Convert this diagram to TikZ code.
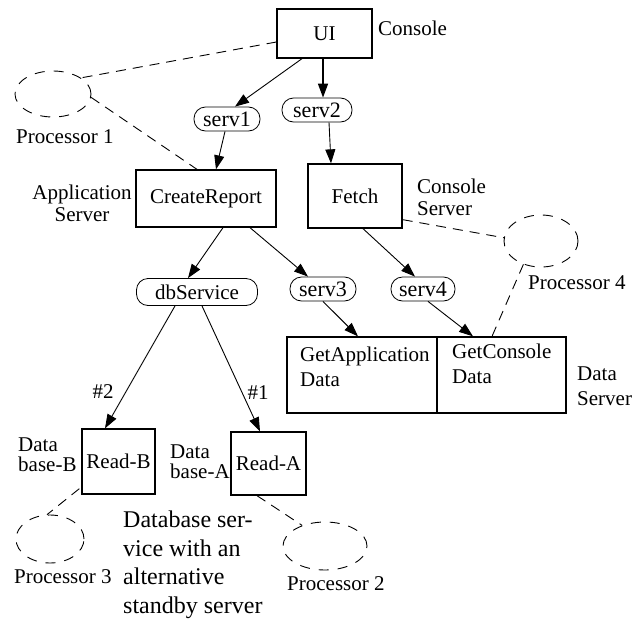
\documentclass[tikz,border=0pt]{standalone}
\usepackage{fontspec}
\setmainfont{Liberation Serif}
\usetikzlibrary{arrows.meta,shapes.geometric,calc}

\begin{document}
\begin{tikzpicture}[x=1pt,y=-1pt,
  box/.style={draw,line width=1.3pt,inner sep=0pt,font=\fontsize{21}{22}\selectfont},
  pill/.style={draw,line width=0.8pt,rounded corners=11.5pt,minimum height=24pt,inner sep=0pt,font=\fontsize{22}{22}\selectfont},
  proc/.style={draw,ellipse,dash pattern=on 10pt off 9pt,line width=0.9pt,inner sep=0pt},
  lbl/.style={inner sep=0pt,font=\fontsize{21}{22}\selectfont},
  flow/.style={line width=0.9pt,-{Triangle[length=14pt,width=10pt]}},
  link/.style={dash pattern=on 10pt off 7pt,line width=0.9pt}
]
\useasboundingbox (0,0) rectangle (644,621);

% components
\node[box,minimum width=95pt,minimum height=49pt] (UI) at (324.5,33.5) {UI};
\node[box,minimum width=140pt,minimum height=57pt] (CreateReport) at (206,198.5) {CreateReport};
\node[box,minimum width=94pt,minimum height=64pt] (Fetch) at (355,196) {Fetch};
\node[box,minimum width=150pt,minimum height=76pt] (GetApp) at (362,375) {};
\node[box,minimum width=129pt,minimum height=76pt] (GetCon) at (501.5,375) {};
\node[box,minimum width=73pt,minimum height=65pt] (ReadB) at (118.5,461.5) {Read-B};
\node[box,minimum width=75pt,minimum height=63pt] (ReadA) at (268.5,463.5) {Read-A};

% component texts inside the data server
\node[lbl,align=left,anchor=west,font=\fontsize{21}{25}\selectfont] (GetAppText) at (300,367) {GetApplication\\Data};
\node[lbl,align=left,anchor=west,font=\fontsize{21}{25}\selectfont] (GetConText) at (452,364) {GetConsole\\Data};

% services
\node[pill,minimum width=66pt] (serv1) at (227,119) {serv1};
\node[pill,minimum width=70pt] (serv2) at (317,110) {serv2};
\node[pill,minimum width=66pt] (serv3) at (323,289) {serv3};
\node[pill,minimum width=64pt] (serv4) at (423,289) {serv4};
\node[pill,minimum width=121pt,minimum height=27pt,font=\fontsize{21}{22}\selectfont] (db) at (197,292) {dbService};

% processors
\node[proc,minimum width=76pt,minimum height=46pt] (P1) at (53,94) {};
\node[proc,minimum width=84pt,minimum height=48pt] (P2) at (325,546) {};
\node[proc,minimum width=68pt,minimum height=48pt] (P3) at (50,539) {};
\node[proc,minimum width=74pt,minimum height=52pt] (P4) at (541,241) {};

% labels
\node[lbl,anchor=west] (lConsole) at (378,28) {Console};
\node[lbl,anchor=west] (lP1) at (16,137) {Processor 1};
\node[lbl,align=center] (lApp) at (82,203) {Application\\Server};
\node[lbl,align=left,anchor=west] (lConSrv) at (417,197) {Console\\Server};
\node[lbl,anchor=west] (lP4) at (528,283) {Processor 4};
\node[lbl,align=left,anchor=west,font=\fontsize{21}{25}\selectfont] (lDataSrv) at (577,386) {Data\\Server};
\node[lbl] (n2) at (103,392) {\#2};
\node[lbl] (n1) at (258,393) {\#1};
\node[lbl,align=left,anchor=west,font=\fontsize{21}{20}\selectfont] (lDbB) at (18,455) {Data\\base-B};
\node[lbl,align=left,anchor=west,font=\fontsize{21}{20}\selectfont] (lDbA) at (170,462) {Data\\base-A};
\node[lbl,anchor=west] (lP3) at (14,577) {Processor 3};
\node[lbl,anchor=west] (lP2) at (287,584) {Processor 2};
\node[lbl,align=left,anchor=west,font=\fontsize{24}{28.5}\selectfont] (note) at (123,565)
  {Database ser-\\vice with an\\alternative\\standby server};

% service calls
\draw[flow] ([xshift=-22.5pt]UI.south) -- ([xshift=8pt]serv1.north);
\draw[flow,line width=1.5pt] ([xshift=-1.5pt]UI.south) -- ([xshift=6pt]serv2.north);
\draw[flow] ([xshift=-2pt]serv1.south) -- ([xshift=10pt]CreateReport.north);
\draw[flow] ([xshift=12pt]serv2.south) -- ([xshift=-24pt]Fetch.north);
\draw[flow] ([xshift=17pt]CreateReport.south) -- ([xshift=-9pt]db.north);
\draw[flow] ([xshift=44pt]CreateReport.south) -- ([xshift=-15pt]serv3.north);
\draw[flow] ([xshift=8pt]Fetch.south) -- ([xshift=-8pt]serv4.north);
\draw[flow] (serv3.south) -- ([xshift=-4pt]GetApp.north);
\draw[flow] ([xshift=5pt]serv4.south) -- ([xshift=-28.5pt]GetCon.north);
\draw[flow] ([xshift=-22pt]db.south) -- ([xshift=-13.5pt]ReadB.north);
\draw[flow] ([xshift=5pt]db.south) -- ([xshift=-8.5pt]ReadA.north);

% deployment links
\draw[link] ([yshift=-8.5pt]UI.west) -- (P1.30);
\draw[link] (P1.-5) -- ([xshift=-9pt]CreateReport.north);
\draw[link] ([yshift=9pt]Fetch.south east) -- (P4.175);
\draw[link] (P4.233) -- ([xshift=-9.5pt]GetCon.north);
\draw[link] ([xshift=-2pt,yshift=6pt]ReadB.south west) -- (P3.97);
\draw[link] ([xshift=-11.5pt]ReadA.south) -- (P2.138);
\end{tikzpicture}
\end{document}
